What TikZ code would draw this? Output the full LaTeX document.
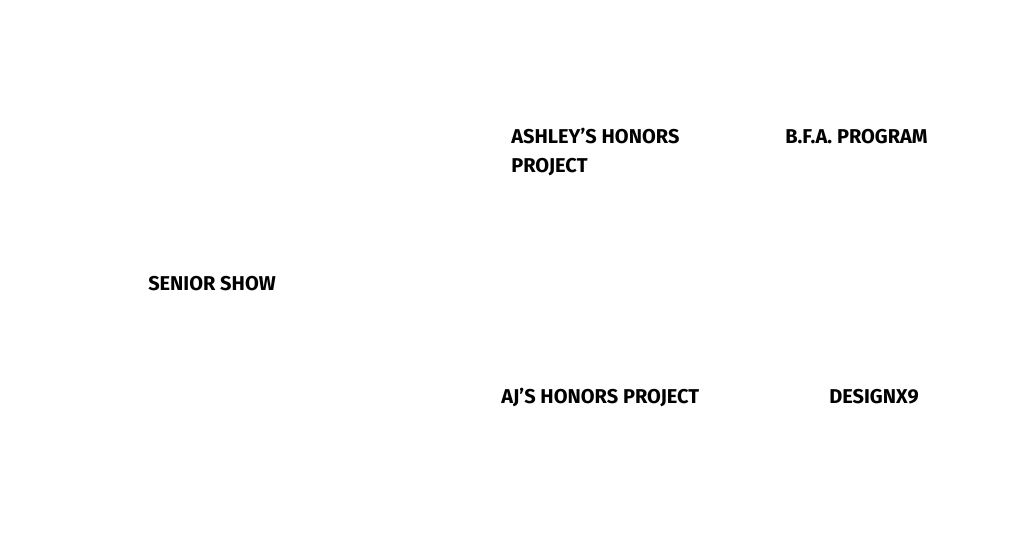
\documentclass[tikz,border=0pt]{standalone}
\usepackage{fontspec}
\setmainfont{Fira Sans}
\begin{document}
\begin{tikzpicture}[x=0.75pt,y=-0.75pt]
            \tikzset{
                label/.style={anchor=base west,inner sep=0pt,font=\bfseries\fontsize{15}{21.75}\selectfont,align=left},}
            \useasboundingbox (0,0) rectangle (1024,560);
            \node [label] (senior) at (148,290) {SENIOR SHOW};
            \node [label] (ashley) at (511,172) {ASHLEY’S HONORS\\PROJECT};
            \node [label] (bfa) at (785,143) {B.F.A. PROGRAM};
            \node [label] (aj) at (501,403) {AJ’S HONORS PROJECT};
            \node [label] (designx) at (829,403) {DESIGNX9};
        \end{tikzpicture}
\end{document}
